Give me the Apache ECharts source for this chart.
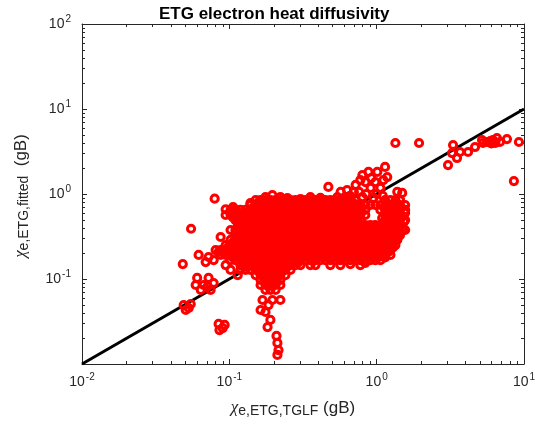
<!DOCTYPE html>
<html>
<head>
<meta charset="utf-8">
<script src="https://cdn.jsdelivr.net/npm/echarts@6/dist/echarts.min.js"></script>
<style>html,body{margin:0;padding:0;background:#fff}#c{width:535px;height:427px}</style>
</head>
<body>
<div id="c"></div>
<script>
// ---------------- data ----------------
const titleText = 'ETG electron heat diffusivity';
const xRange = [0.01, 10];
const yRange = [0.01, 100];
const xMajorTicks = [0.01, 0.1, 1, 10];
const yMajorTicks = [0.01, 0.1, 1, 10, 100];
const refLine = [[0.01, 0.01], [10, 10]];

// dense central cloud, read row by row
const cloudRowY = [0.85, 0.742, 0.649, 0.566, 0.494, 0.432, 0.377, 0.329, 0.288, 0.251, 0.219, 0.192, 0.167, 0.146, 0.128, 0.111, 0.0974, 0.085, 0.0743];
const cloudRowX = [
  [0.151,0.163,0.176,0.19,0.206,0.222,0.24,0.26,0.281,0.304,0.329,0.355,0.384,0.415,0.449,0.485,0.524,0.567,0.613,0.663,0.716,1.14,1.24,1.34,1.44],
  [0.139,0.151,0.163,0.176,0.19,0.206,0.222,0.24,0.26,0.281,0.304,0.329,0.355,0.384,0.415,0.449,0.485,0.524,0.567,0.613,0.663,0.716,0.775,0.837,0.906,0.978,1.06,1.14,1.24,1.34,1.44,1.56],
  [0.102,0.11,0.119,0.129,0.139,0.151,0.163,0.176,0.19,0.206,0.222,0.24,0.26,0.281,0.304,0.329,0.355,0.384,0.415,0.449,0.485,0.524,0.567,0.613,0.663,0.716,0.775,0.837,1.06,1.14,1.24,1.34,1.44,1.56],
  [0.0944,0.102,0.11,0.119,0.129,0.139,0.151,0.163,0.176,0.19,0.206,0.222,0.24,0.26,0.281,0.304,0.329,0.355,0.384,0.415,0.449,0.485,0.524,0.567,0.613,0.663,0.716,0.775,0.837,1.14,1.24,1.34,1.44],
  [0.11,0.119,0.129,0.139,0.151,0.163,0.176,0.19,0.206,0.222,0.24,0.26,0.281,0.304,0.329,0.355,0.384,0.415,0.449,0.485,0.524,0.567,0.613,0.663,0.716,0.775,1.14,1.24,1.34,1.44,1.56],
  [0.119,0.129,0.139,0.151,0.163,0.176,0.19,0.206,0.222,0.24,0.26,0.281,0.304,0.329,0.355,0.384,0.415,0.449,0.485,0.524,0.567,0.613,0.663,0.716,0.775,0.837,0.906,0.978,1.06,1.14,1.24,1.34,1.44],
  [0.102,0.11,0.119,0.129,0.139,0.151,0.163,0.176,0.19,0.206,0.222,0.24,0.26,0.281,0.304,0.329,0.355,0.384,0.415,0.449,0.485,0.524,0.567,0.613,0.663,0.716,0.775,0.837,0.906,0.978,1.06,1.14,1.24,1.34,1.44,1.56],
  [0.11,0.119,0.129,0.139,0.151,0.163,0.176,0.19,0.206,0.222,0.24,0.26,0.281,0.304,0.329,0.355,0.384,0.415,0.449,0.485,0.524,0.567,0.613,0.663,0.716,0.775,0.837,0.906,0.978,1.06,1.14,1.24,1.34,1.44],
  [0.102,0.11,0.119,0.129,0.139,0.151,0.163,0.176,0.19,0.206,0.222,0.24,0.26,0.281,0.304,0.329,0.355,0.384,0.415,0.449,0.485,0.524,0.567,0.613,0.663,0.716,0.775,0.837,0.906,0.978,1.06,1.14,1.24,1.34],
  [0.0944,0.102,0.11,0.119,0.129,0.139,0.151,0.163,0.176,0.19,0.206,0.222,0.24,0.26,0.281,0.304,0.329,0.355,0.384,0.415,0.449,0.485,0.524,0.567,0.613,0.663,0.716,0.775,0.837,0.906,0.978,1.06,1.14,1.24,1.34],
  [0.0807,0.0873,0.0944,0.102,0.11,0.119,0.129,0.139,0.151,0.163,0.176,0.19,0.206,0.222,0.24,0.26,0.281,0.304,0.329,0.355,0.384,0.415,0.449,0.485,0.524,0.567,0.613,0.663,0.716,0.775,0.837,0.906,0.978,1.06,1.14,1.24],
  [0.0873,0.0944,0.102,0.11,0.119,0.129,0.139,0.151,0.163,0.176,0.19,0.206,0.222,0.24,0.26,0.281,0.304,0.329,0.355,0.384,0.415,0.449,0.485,0.524,0.567,0.613,0.663,0.716,0.775,0.837,0.906,0.978,1.06,1.14,1.24],
  [0.102,0.11,0.119,0.129,0.139,0.151,0.163,0.176,0.19,0.206,0.222,0.24,0.26,0.281,0.304,0.329,0.355,0.384,0.415,0.449,0.485,0.524,0.567,0.613,0.663,0.716,0.775,0.837,0.906,0.978,1.06],
  [0.119,0.129,0.139,0.151,0.163,0.176,0.19,0.206,0.222,0.24,0.26,0.281,0.304,0.384,0.567,0.775],
  [0.129,0.139,0.151,0.163,0.176,0.19,0.206,0.222,0.24,0.26],
  [0.151,0.163,0.176,0.19,0.206,0.222,0.24],
  [0.163,0.176,0.19,0.206,0.222],
  [0.163,0.176,0.19,0.206,0.222],
  [0.176,0.19,0.206]
];
// interleaved rows filling the densest part of the cloud
const denseRowY = [0.794, 0.693, 0.606, 0.529, 0.462, 0.404, 0.352, 0.307, 0.269, 0.235, 0.205, 0.179, 0.156];
const denseRowX = [
  [0.157,0.169,0.183,0.198,0.214,0.231,0.25,0.27,0.292,0.316,0.342,0.369,0.399,0.431,0.467,0.504,0.545,0.59,0.637,0.689],
  [0.145,0.157,0.169,0.183,0.198,0.214,0.231,0.25,0.27,0.292,0.316,0.342,0.369,0.399,0.431,0.467,0.504,0.545,0.59,0.637,0.689,0.744,1.19,1.29,1.39],
  [0.106,0.114,0.124,0.134,0.145,0.157,0.169,0.183,0.198,0.214,0.231,0.25,0.27,0.292,0.316,0.342,0.369,0.399,0.431,0.467,0.504,0.545,0.59,0.637,0.689,0.744,1.19,1.29,1.39],
  [0.106,0.114,0.124,0.134,0.145,0.157,0.169,0.183,0.198,0.214,0.231,0.25,0.27,0.292,0.316,0.342,0.369,0.399,0.431,0.467,0.504,0.545,0.59,0.637,0.689,0.744,1.19,1.29,1.39],
  [0.114,0.124,0.134,0.145,0.157,0.169,0.183,0.198,0.214,0.231,0.25,0.27,0.292,0.316,0.342,0.369,0.399,0.431,0.467,0.504,0.545,0.59,0.637,0.689,0.744,1.19,1.29,1.39],
  [0.114,0.124,0.134,0.145,0.157,0.169,0.183,0.198,0.214,0.231,0.25,0.27,0.292,0.316,0.342,0.369,0.399,0.431,0.467,0.504,0.545,0.59,0.637,0.689,0.744,0.806,0.87,0.942,1.02,1.1,1.19,1.29,1.39],
  [0.114,0.124,0.134,0.145,0.157,0.169,0.183,0.198,0.214,0.231,0.25,0.27,0.292,0.316,0.342,0.369,0.399,0.431,0.467,0.504,0.545,0.59,0.637,0.689,0.744,0.806,0.87,0.942,1.02,1.1,1.19,1.29,1.39],
  [0.114,0.124,0.134,0.145,0.157,0.169,0.183,0.198,0.214,0.231,0.25,0.27,0.292,0.316,0.342,0.369,0.399,0.431,0.467,0.504,0.545,0.59,0.637,0.689,0.744,0.806,0.87,0.942,1.02,1.1,1.19,1.29,1.39],
  [0.106,0.114,0.124,0.134,0.145,0.157,0.169,0.183,0.198,0.214,0.231,0.25,0.27,0.292,0.316,0.342,0.369,0.399,0.431,0.467,0.504,0.545,0.59,0.637,0.689,0.744,0.806,0.87,0.942,1.02,1.1,1.19,1.29],
  [0.0981,0.106,0.114,0.124,0.134,0.145,0.157,0.169,0.183,0.198,0.214,0.231,0.25,0.27,0.292,0.316,0.342,0.369,0.399,0.431,0.467,0.504,0.545,0.59,0.637,0.689,0.744,0.806,0.87,0.942,1.02,1.1,1.19,1.29],
  [0.0908,0.0981,0.106,0.114,0.124,0.134,0.145,0.157,0.169,0.183,0.198,0.214,0.231,0.25,0.27,0.292,0.316,0.342,0.369,0.399,0.431,0.467,0.504,0.545,0.59,0.637,0.689,0.744,0.806,0.87,0.942,1.02,1.1,1.19],
  [0.106,0.114,0.124,0.134,0.145,0.157,0.169,0.183,0.198,0.214,0.231,0.25,0.27,0.292,0.316,0.342,0.369,0.399,0.431,0.467,0.504,0.545,0.59,0.637,0.689,0.744,0.806,0.87,0.942,1.02],
  [0.124,0.134,0.145,0.157,0.169,0.183,0.198,0.214,0.231,0.25,0.27,0.292]
];

// irregular points around the cloud
const topEdge = [[0.176,0.92],[0.196,0.97],[0.222,0.92],[0.248,0.897],[0.304,0.87],[0.355,0.92],[0.415,0.90],[0.541,0.92],[0.613,0.92],[0.139,0.78],[0.0944,0.66],[0.106,0.70]];
const topRight = [[0.80,1.67],[0.88,1.82],[1.01,1.82],[1.14,2.08],[1.18,1.58],[0.98,1.38],[0.84,1.38],[0.72,1.28],[0.76,1.06],[0.91,1.18],[1.06,1.18],[0.63,1.11],[0.57,1.06],[0.47,1.21],[0.92,1.54],[0.775,1.46],[1.11,1.46],[0.70,1.05],[0.85,1.0],[1.0,1.0],[0.66,0.95],[0.80,0.92],[0.95,0.9],[1.1,0.95]];
const rightEdge = [[1.38,1.06],[1.49,1.03],[1.44,0.85],[1.24,0.703],[1.09,0.522],[1.38,0.536],[1.51,0.377],[1.38,0.288],[1.24,0.238],[1.56,0.60],[1.53,0.47]];
const bottomEdge = [[0.355,0.146],[0.485,0.146],[0.663,0.15],[0.837,0.155],[1.14,0.18]];
const leftScatter = [[0.0795,0.88],[0.055,0.39],[0.0873,0.312],[0.0483,0.15],[0.0619,0.192],[0.0723,0.1815],[0.0848,0.208],[0.0691,0.158],[0.0783,0.167]];
const lowerLeft = [[0.0605,0.103],[0.0723,0.103],[0.067,0.085],[0.0746,0.0743],[0.064,0.0743],[0.0783,0.0897],[0.0591,0.085],[0.0713,0.082],[0.0944,0.146],[0.102,0.128],[0.114,0.111],[0.119,0.128]];
const tail = [[0.168,0.0566],[0.1845,0.0494],[0.176,0.0409],[0.19,0.033],[0.1817,0.0272],[0.209,0.0214],[0.212,0.0177],[0.2157,0.0146],[0.212,0.0128],[0.163,0.0432],[0.196,0.0566],[0.222,0.0566]];
const blobLow = [[0.0846,0.0296],[0.0901,0.0265],[0.0857,0.0251],[0.0929,0.0288]];
const blobLeft = [[0.049,0.0494],[0.053,0.0456],[0.0506,0.0432],[0.0547,0.0508]];
const rightCluster = [[1.34,3.98],[1.94,3.98],[3.30,3.77],[3.25,3.03],[3.05,2.19],[3.51,2.65],[3.68,3.12],[4.17,3.12],[4.65,3.57],[5.19,4.32],[5.27,3.98],[5.61,4.09],[6.15,4.32],[6.39,3.98],[6.55,4.56],[6.87,4.09],[7.66,4.43],[9.24,4.09],[8.54,1.42],[5.9,4.2],[6.0,3.95]];

const xMinorTicks = [0.02,0.03,0.04,0.05,0.06,0.07,0.08,0.09,0.2,0.3,0.4,0.5,0.6,0.7,0.8,0.9,2,3,4,5,6,7,8,9];
const yMinorTicks = [0.02,0.03,0.04,0.05,0.06,0.07,0.08,0.09,0.2,0.3,0.4,0.5,0.6,0.7,0.8,0.9,2,3,4,5,6,7,8,9,20,30,40,50,60,70,80,90];

// ---------------- chart ----------------
const points = [];
cloudRowY.forEach((y, i) => cloudRowX[i].forEach(x => points.push([x, y])));
denseRowY.forEach((y, i) => denseRowX[i].forEach(x => points.push([x, y])));
[topEdge, topRight, rightEdge, bottomEdge, leftScatter, lowerLeft, tail, blobLow, blobLeft, rightCluster]
  .forEach(arr => arr.forEach(p => points.push(p)));

const FONT = '"Liberation Sans", Arial, Helvetica, sans-serif';
const TXT = '#262626';
const chart = echarts.init(document.getElementById('c'), null, {renderer: 'canvas', width: 535, height: 427});

const labelRich = {
  b: {fontSize: 14, fontFamily: FONT, color: TXT},
  e: {fontSize: 10, fontFamily: FONT, color: TXT, padding: [0, 0, 10, 1]}
};
function expLabel(v) {
  const e = Math.round(Math.log10(v));
  return '{b|10}{e|' + e + '}';
}
function makeAxis(pos, range, showLabel, hideMin) {
  return {
    type: 'log', logBase: 10, min: range[0], max: range[1], position: pos,
    axisLine: {show: true, onZero: false, lineStyle: {color: TXT, width: 1}},
    axisTick: {show: true, inside: true, length: 5, lineStyle: {color: TXT, width: 1}},
    axisLabel: {
      show: showLabel, margin: pos === 'bottom' ? 8 : 11,
      formatter: v => (hideMin && Math.abs(v - range[0]) < 1e-9) ? '' : expLabel(v),
      rich: labelRich
    },
    splitLine: {show: false},
    minorTick: {show: false}
  };
}

chart.setOption({
  animation: false,
  backgroundColor: '#fff',
  title: {
    text: titleText, left: 154, top: 1,
    textStyle: {fontSize: 17, fontWeight: 'bold', fontFamily: FONT, color: '#000'}
  },
  grid: {left: 82, right: 11, top: 24, bottom: 63, containLabel: false, outerBoundsMode: 'none'},
  xAxis: [makeAxis('bottom', xRange, true, false), makeAxis('top', xRange, false, false)],
  yAxis: [makeAxis('left', yRange, true, true), makeAxis('right', yRange, false, false)],
  series: [
    {
      type: 'line', data: refLine, xAxisIndex: 0, yAxisIndex: 0,
      symbol: 'none', lineStyle: {color: '#000', width: 3}, z: 1, silent: true
    },
    {
      type: 'scatter', data: points, xAxisIndex: 0, yAxisIndex: 0,
      symbol: 'circle', symbolSize: 7.2, z: 2, silent: true,
      itemStyle: {color: 'rgba(0,0,0,0)', borderColor: '#ff0000', borderWidth: 3, opacity: 1},
      emphasis: {disabled: true}
    }
  ]
});

// minor ticks (log 2..9) on all four sides, plus axis titles
const els = [];
const L = 82, R = 524, T = 24, B = 364, ML = 3;
xMinorTicks.forEach(v => {
  const px = Math.round(chart.convertToPixel({xAxisIndex: 0}, v)) + 0.5;
  els.push({type: 'line', silent: true, shape: {x1: px, y1: B, x2: px, y2: B - ML}, style: {stroke: TXT, lineWidth: 1}});
  els.push({type: 'line', silent: true, shape: {x1: px, y1: T, x2: px, y2: T + ML}, style: {stroke: TXT, lineWidth: 1}});
});
yMinorTicks.forEach(v => {
  const py = Math.round(chart.convertToPixel({yAxisIndex: 0}, v)) + 0.5;
  els.push({type: 'line', silent: true, shape: {x1: L, y1: py, x2: L + ML, y2: py}, style: {stroke: TXT, lineWidth: 1}});
  els.push({type: 'line', silent: true, shape: {x1: R, y1: py, x2: R - ML, y2: py}, style: {stroke: TXT, lineWidth: 1}});
});
const titleRich = {
  c: {fontSize: 17, fontFamily: '"Liberation Serif", serif', fontStyle: 'italic', fill: TXT},
  s: {fontSize: 14, fontFamily: FONT, fill: TXT, padding: [7, 0, 0, 0]},
  n: {fontSize: 17, fontFamily: FONT, fill: TXT}
};
els.push({
  type: 'text', silent: true, x: 293, y: 408,
  style: {text: '{c|χ}{s|e,ETG,TGLF}{n| (gB)}', rich: titleRich, align: 'center', verticalAlign: 'middle'}
});
els.push({
  type: 'text', silent: true, x: 21, y: 196, rotation: Math.PI / 2,
  style: {text: '{c|χ}{s|e,ETG,fitted}{n|  (gB)}', rich: titleRich, align: 'center', verticalAlign: 'middle'}
});
chart.setOption({graphic: {elements: els}});
</script>
</body>
</html>
